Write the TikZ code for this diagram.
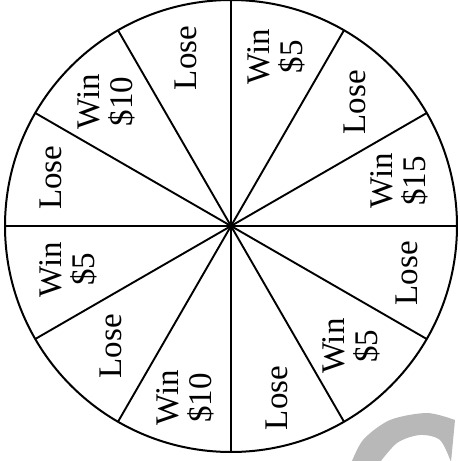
\documentclass[tikz,border=0pt]{standalone}
\usepackage{fontspec}
\setmainfont{Liberation Serif}
\definecolor{wm}{gray}{0.72}
\begin{document}
\begin{tikzpicture}[x=1pt,y=1pt,
  rim/.style={circle,draw,line width=2pt,minimum size=452pt,inner sep=0pt,outer sep=0pt},
  spoke/.style={line width=1.9pt},
  lbl/.style={rotate=90,align=center,inner sep=0pt,font=\fontsize{33}{33}\selectfont}]
\useasboundingbox (-231,-235) rectangle (228,226);
\clip (-231,-235) rectangle (228,226);
% light grey mark at the lower right corner
\fill[wm] plot[smooth] coordinates {(119,-240) (132,-214) (159,-194) (196,-187) (224,-194)}
  -- plot[smooth] coordinates {(220,-236) (209,-214) (189,-209) (166,-217) (146,-240)} -- cycle;
\coordinate (c) at (0,0);
\node[rim] (wheel) at (c) {};
\foreach \a in {0,30,...,330}{
  \draw[spoke] (c) -- (wheel.\a);
}
\node[lbl] (s1) at (15:174) {Win\\\$15};
\node[lbl] (s2) at (45:175) {Lose};
\node[lbl] (s3) at (75:175) {Win\\\$5};
\node[lbl] (s4) at (105:174) {Lose};
\node[lbl] (s5) at (135:176) {Win\\\$10};
\node[lbl] (s6) at (165:187) {Lose};
\node[lbl] (s7) at (195:168) {Win\\\$5};
\node[lbl] (s8) at (225:170) {Lose};
\node[lbl] (s9) at (255:178) {Win\\\$10};
\node[lbl] (s10) at (285:178) {Lose};
\node[lbl] (s11) at (315:170) {Win\\\$5};
\node[lbl] (s12) at (345:182) {Lose};
\end{tikzpicture}
\end{document}
